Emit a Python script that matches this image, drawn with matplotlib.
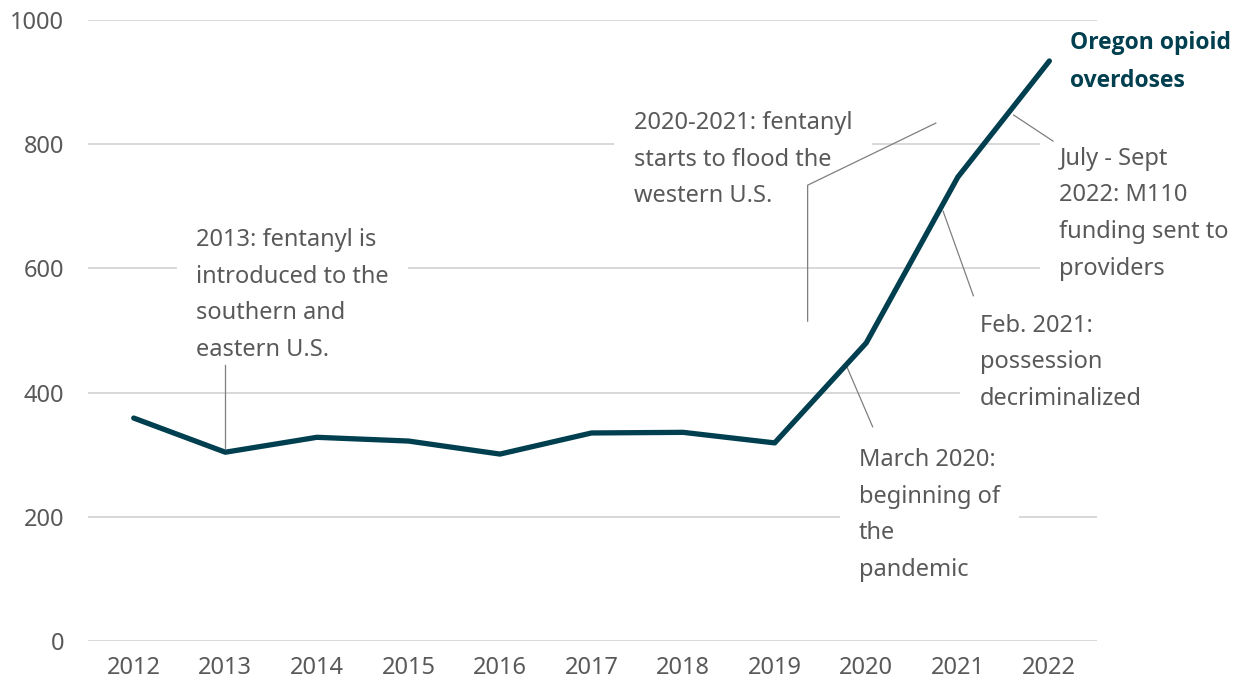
import matplotlib.pyplot as plt

plt.rcParams['font.family'] = ['Noto Sans', 'DejaVu Sans']

years = [2012, 2013, 2014, 2015, 2016, 2017, 2018, 2019, 2020, 2021, 2022]
overdoses = [359, 304, 328, 322, 301, 335, 336, 319, 480, 747, 934]
yticks = [0, 200, 400, 600, 800, 1000]

line_col = '#003f4f'
txt_col = '#595959'
lead_col = '#7f7f7f'
fs = 17

fig = plt.figure(figsize=(12.37, 6.83), dpi=100)
ax = fig.add_axes([0.0711, 0.0615, 0.8157, 0.9092])

ax.plot(years, overdoses, color=line_col, lw=3.8, solid_capstyle='round',
        solid_joinstyle='round', zorder=5)

ax.set_xlim(2011.5, 2022.52)
ax.set_ylim(0, 1000)
ax.set_xticks(years)
ax.set_yticks(yticks)
ax.tick_params(length=0, labelsize=fs, labelcolor=txt_col)
ax.tick_params(axis='y', pad=17)
ax.tick_params(axis='x', pad=11)
for s in ax.spines.values():
    s.set_visible(False)
ax.grid(axis='y', color='#d6d6d6', lw=1.3, zorder=0)
ax.set_axisbelow(True)

box = dict(facecolor='white', edgecolor='none', pad=14)

# notes
notes = [
    (2012.68, 557, '2013: fentanyl is\nintroduced to the\nsouthern and\neastern U.S.'),
    (2017.46, 775, '2020-2021: fentanyl\nstarts to flood the\nwestern U.S.'),
    (2022.11, 688, 'July - Sept\n2022: M110\nfunding sent to\nproviders'),
    (2021.24, 449, 'Feb. 2021:\npossession\ndecriminalized'),
    (2019.92, 203, 'March 2020:\nbeginning of\nthe\npandemic'),
]
for x, y, s in notes:
    ax.text(x, y, s, fontsize=fs, color=txt_col, va='center', ha='left',
            linespacing=1.7, bbox=box, zorder=3)

ax.text(2022.22, 932, 'Oregon opioid\noverdoses', fontsize=16.5, color=line_col,
        family=['Open Sans', 'DejaVu Sans'], fontweight='bold',
        va='center', ha='left', linespacing=1.75,
        bbox=dict(facecolor='white', edgecolor='none', pad=5), zorder=3)

# leader lines
leaders = [
    ([2013, 2013], [311, 444]),
    ([2019.36, 2019.36, 2020.76], [515, 734, 834]),
    ([2019.79, 2020.07], [441, 345]),
    ([2020.84, 2021.17], [692, 556]),
    ([2021.61, 2022.04], [847, 805]),
]
for lx, ly in leaders:
    ax.plot(lx, ly, color=lead_col, lw=0.9, zorder=4)

plt.savefig('out.png', dpi=100)
